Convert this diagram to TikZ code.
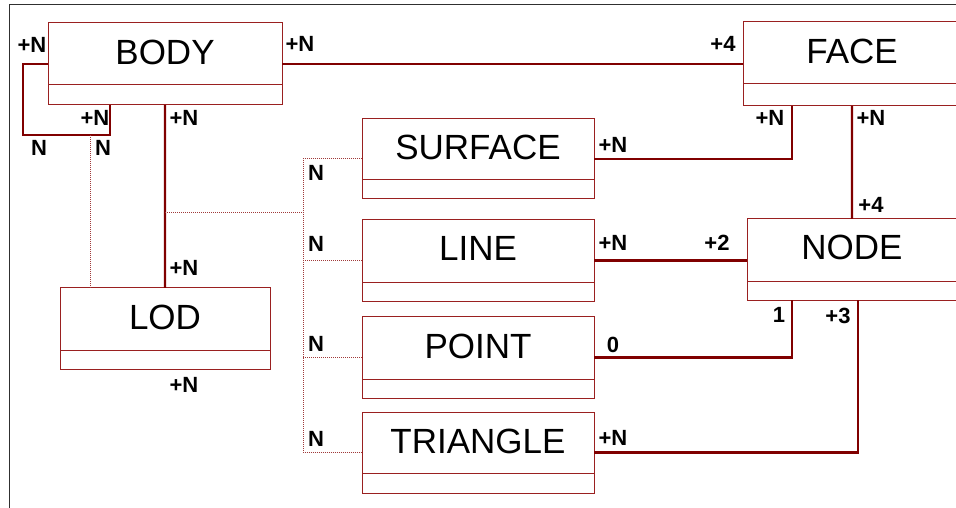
\documentclass[tikz,border=0pt]{standalone}
\usepackage{fontspec}
\setmainfont{Liberation Sans}
\definecolor{connred}{HTML}{800000}
\definecolor{boxred}{HTML}{9A2020}
\definecolor{dotred}{HTML}{A03A3A}
\definecolor{framegray}{HTML}{303030}
\begin{document}
\begin{tikzpicture}[x=1bp,y=-1bp,
  cls/.style={draw=boxred, line width=1bp, rectangle, anchor=north west, inner sep=0pt, outer sep=0pt},
  divider/.style={draw=boxred, line width=1bp},
  title/.style={anchor=base, inner sep=0pt, font=\fontsize{35bp}{35bp}\selectfont},
  conn/.style={draw=connred, line width=2.3bp},
  assoc/.style={draw=dotred, line width=1bp, dash pattern=on 1bp off 1bp},
  mult/.style={inner sep=0pt, font=\fontsize{22bp}{22bp}\selectfont\bfseries},
  frameline/.style={draw=framegray, line width=1bp}]
\useasboundingbox (0,0) rectangle (956,508);
\clip (0,0) rectangle (956,508);
\fill[white] (0,0) rectangle (956,508);
\draw[frameline] (9,508) -- (9,5) -- (956,5);

% classes
\node[cls, minimum width=234bp, minimum height=82bp] (body) at (48,23) {};
\node[cls, minimum width=218bp, minimum height=84bp] (face) at (743,22) {};
\node[cls, minimum width=232bp, minimum height=80bp] (surface) at (362,119) {};
\node[cls, minimum width=232bp, minimum height=81bp] (line) at (362,220) {};
\node[cls, minimum width=232bp, minimum height=81bp] (point) at (362,317) {};
\node[cls, minimum width=232bp, minimum height=81bp] (triangle) at (362,412) {};
\node[cls, minimum width=210bp, minimum height=81bp] (nodecls) at (747,219) {};
\node[cls, minimum width=210bp, minimum height=81bp] (lod) at (60,288) {};

\foreach \c/\d in {body/20,face/22,surface/19,line/19,point/19,triangle/20,nodecls/19,lod/19}{
  \draw[divider] ([yshift=\d bp]\c.south west) -- ([yshift=\d bp]\c.south east);
}

\node[title] (bodyt) at ([yshift=-42bp]body.north) {BODY};
\node[title] (facet) at ([yshift=-42bp]face.north) {FACE};
\node[title] (surfacet) at ([yshift=-41bp]surface.north) {SURFACE};
\node[title] (linet) at ([yshift=-41bp]line.north) {LINE};
\node[title] (pointt) at ([yshift=-41bp]point.north) {POINT};
\node[title] (trianglet) at ([yshift=-41bp]triangle.north) {TRIANGLE};
\node[title] (nodet) at ([yshift=-41bp]nodecls.north) {NODE};
\node[title] (lodt) at ([yshift=-41bp]lod.north) {LOD};

% self loop on BODY
\coordinate (loopA) at (23,135);
\coordinate (loopB) at (110,135);
\coordinate (loopM) at (90,135);
\draw[conn] (body.west) -| (loopA) -- (loopB) -- (loopB |- body.south);
\draw[assoc] (loopM) -- (loopM |- lod.north);

% BODY - LOD
\draw[conn] (body.south) -- (lod.north);

% dotted bus to primitives
\coordinate (busL) at (165,213);
\coordinate (busR) at (303,213);
\draw[assoc] (busL) -- (busR);
\draw[assoc] (surface.west) -- (surface.west -| busR) -- (triangle.west -| busR) -- (triangle.west);
\draw[assoc] (line.west -| busR) -- (line.west);
\draw[assoc] (point.west -| busR) -- (point.west);

% BODY - FACE
\draw[conn] (body.east) -- (face.west);
% SURFACE - FACE
\draw[conn] (surface.east) -| ([xshift=49bp]face.south west);
% FACE - NODE
\draw[conn] (face.south) -- (nodecls.north);
% LINE - NODE
\draw[conn] (line.east) -- (line.east -| nodecls.west);
% POINT - NODE
\draw[conn] (point.east) -| ([xshift=45bp]nodecls.south west);
% TRIANGLE - NODE
\draw[conn] (triangle.east) -| ([xshift=111bp]nodecls.south west);

% multiplicities
\node[mult] (m1) at (32,45) {+N};
\node[mult] (m2) at (95,118) {+N};
\node[mult] (m3) at (39,148) {N};
\node[mult] (m4) at (103,148) {N};
\node[mult] (m5) at (184,118) {+N};
\node[mult] (m6) at (184,268) {+N};
\node[mult] (m7) at (184,385) {+N};
\node[mult] (m8) at (300,44) {+N};
\node[mult] (m9) at (723,44) {+4};
\node[mult] (m10) at (613,145) {+N};
\node[mult] (m11) at (770,118) {+N};
\node[mult] (m12) at (871,118) {+N};
\node[mult] (m13) at (871,205) {+4};
\node[mult] (m14) at (613,243) {+N};
\node[mult] (m15) at (717,243) {+2};
\node[mult] (m16) at (613,345) {0};
\node[mult] (m17) at (779,315) {1};
\node[mult] (m18) at (838,316) {+3};
\node[mult] (m19) at (613,438) {+N};
\node[mult] (m20) at (316,173) {N};
\node[mult] (m21) at (316,244) {N};
\node[mult] (m22) at (316,344) {N};
\node[mult] (m23) at (316,439) {N};
\end{tikzpicture}
\end{document}
